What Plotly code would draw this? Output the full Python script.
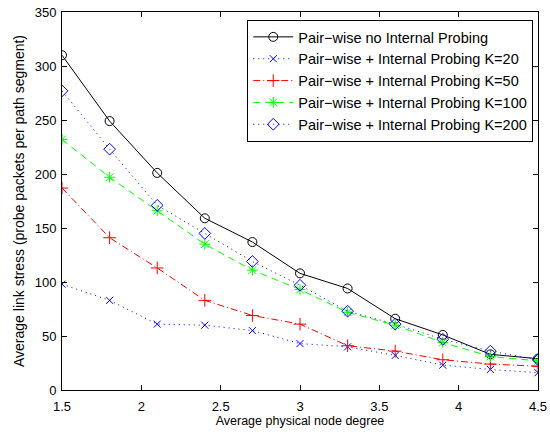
import plotly.graph_objects as go

x_deg = [1.5, 1.8, 2.1, 2.4, 2.7, 3.0, 3.3, 3.6, 3.9, 4.2, 4.5]
no_probe = [310, 249, 201, 159, 137, 108, 94, 66, 51, 33, 29]
k20 = [98, 83, 61, 60, 55, 43, 40, 32, 23, 19, 16]
k50 = [187, 141, 113, 83, 69, 61, 41, 36, 28, 24, 22]
k100 = [232, 197, 166, 135, 111, 93, 72, 60, 44, 31, 27]
k200 = [277, 223, 171, 145, 119, 97, 73, 61, 47, 36, 28]

names = ["Pair\u2212wise no Internal Probing",
         "Pair\u2212wise + Internal Probing K=20",
         "Pair\u2212wise + Internal Probing K=50",
         "Pair\u2212wise + Internal Probing K=100",
         "Pair\u2212wise + Internal Probing K=200"]
x_ticks = [1.5, 2, 2.5, 3, 3.5, 4, 4.5]
y_ticks = [0, 50, 100, 150, 200, 250, 300, 350]

styles = [
    (no_probe, "black", "solid", "circle-open", 9),
    (k20, "blue", "1px,4px", "x-thin-open", 7),
    (k50, "red", "7px,3px,1px,3px", "cross-thin-open", 9),
    (k100, "#00ff00", "7px,5px", "asterisk-open", 9),
    (k200, "blue", "1px,4px", "diamond-open", 9),
]

fig = go.Figure()
for (vals, col, dash, sym, sz), nm in zip(styles, names):
    fig.add_trace(go.Scatter(
        x=x_deg, y=vals, name=nm, mode="lines+markers",
        line=dict(color=col, dash=dash, width=1),
        marker=dict(symbol=sym, size=sz, color=col, line=dict(color=col, width=1)),
    ))

axis_common = dict(showline=True, linecolor="black", linewidth=1, mirror="ticks",
                   ticks="inside", ticklen=5, tickcolor="black", showgrid=False,
                   zeroline=False, automargin=False, tickfont=dict(size=13, color="black"))
fig.update_layout(
    width=550, height=432,
    margin=dict(l=62, r=12, t=12, b=42),
    paper_bgcolor="white", plot_bgcolor="white",
    font=dict(family="Liberation Sans, Arial, sans-serif", size=12, color="black"),
    xaxis=dict(range=[1.5, 4.5], tickvals=x_ticks, ticktext=[str(t) for t in x_ticks],
               ticklabelstandoff=4,
               title=dict(text="Average physical node degree", standoff=2, font=dict(size=12.5)),
               **axis_common),
    yaxis=dict(range=[0, 350], tickvals=y_ticks, ticklabelstandoff=2,
               title=dict(text="Average link stress (probe packets per path segment)", standoff=6, font=dict(size=14)),
               **axis_common),
    legend=dict(x=0.99, y=0.979, xanchor="right", yanchor="top",
                bgcolor="white", bordercolor="black", borderwidth=1,
                font=dict(size=14.5), tracegroupgap=0, itemwidth=40),
    showlegend=True,
)
fig.write_html("out.html")
